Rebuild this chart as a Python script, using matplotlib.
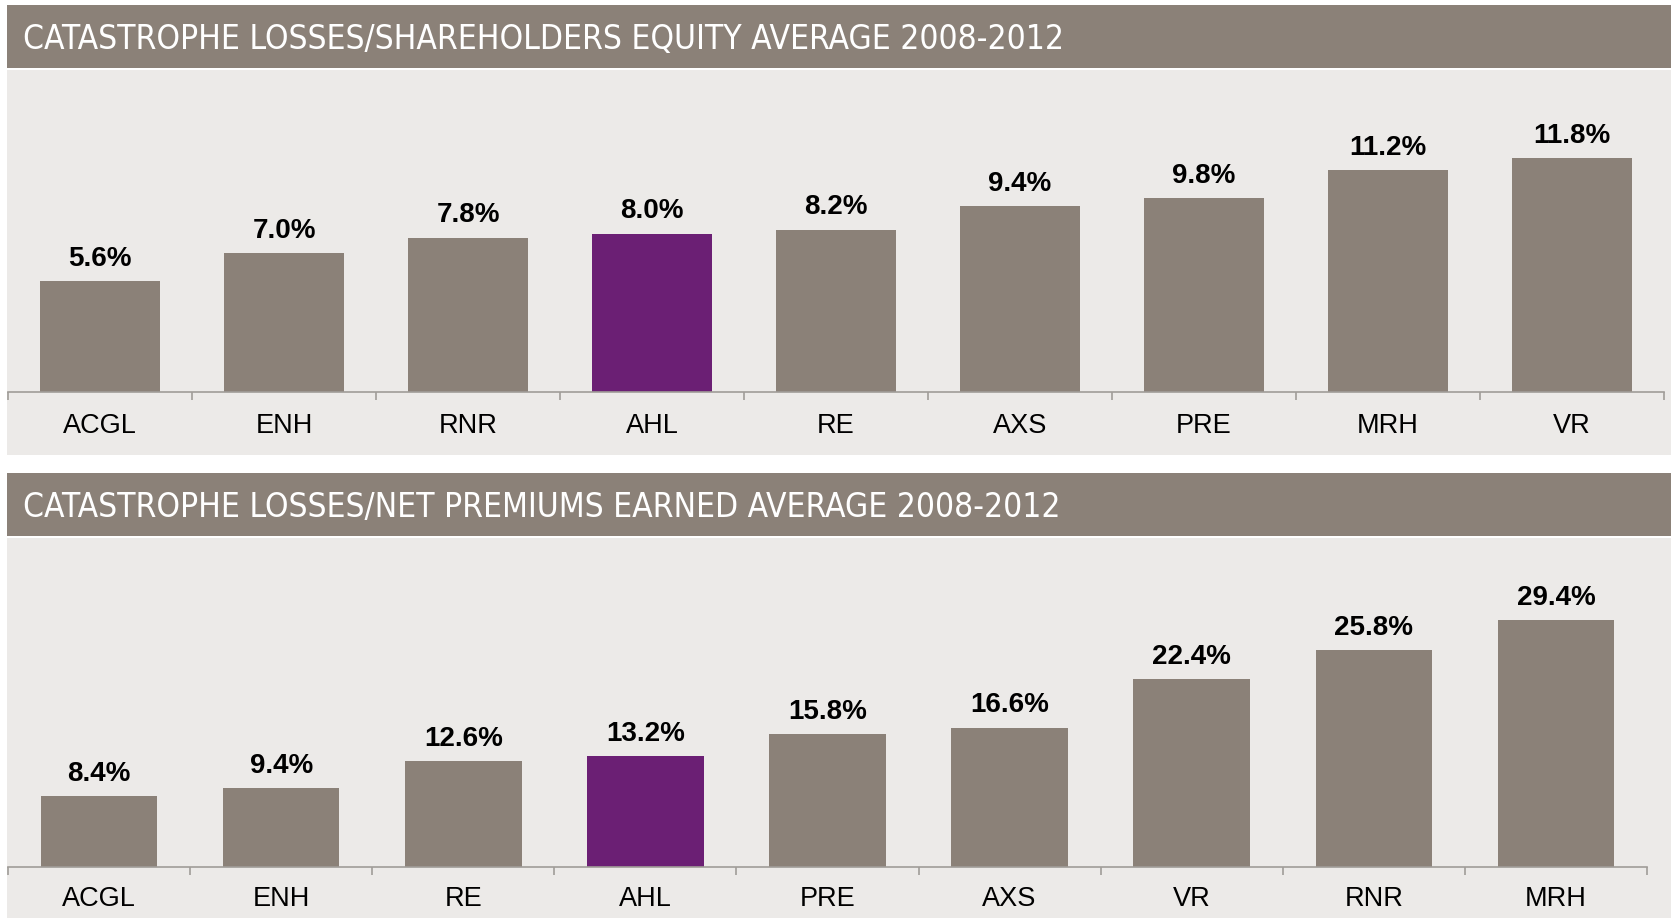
import matplotlib.pyplot as plt
from matplotlib.patches import Rectangle

# data
top_title = "CATASTROPHE LOSSES/SHAREHOLDERS EQUITY AVERAGE 2008-2012"
top_names = ["ACGL", "ENH", "RNR", "AHL", "RE", "AXS", "PRE", "MRH", "VR"]
top_values = [5.6, 7.0, 7.8, 8.0, 8.2, 9.4, 9.8, 11.2, 11.8]

bot_title = "CATASTROPHE LOSSES/NET PREMIUMS EARNED AVERAGE 2008-2012"
bot_names = ["ACGL", "ENH", "RE", "AHL", "PRE", "AXS", "VR", "RNR", "MRH"]
bot_values = [8.4, 9.4, 12.6, 13.2, 15.8, 16.6, 22.4, 25.8, 29.4]

highlight = "AHL"

GREY = "#8b8178"
PURPLE = "#6b1f74"
PANEL = "#eceae8"
AXIS = "#a09c98"

W, H = 1675, 918
fig = plt.figure(figsize=(W / 100, H / 100), dpi=100)
fig.patch.set_facecolor("white")
renderer = fig.canvas.get_renderer()


def px(x0, y0, x1, y1):
    # pixel box (top-left origin) -> figure fraction rect
    return [x0 / W, 1 - y1 / H, (x1 - x0) / W, (y1 - y0) / H]


def add_rect(x0, y0, x1, y1, color):
    fig.patches.append(Rectangle((x0 / W, 1 - y1 / H), (x1 - x0) / W, (y1 - y0) / H,
                                 transform=fig.transFigure, facecolor=color,
                                 edgecolor="none", zorder=-1))


def panel(title, title_w, names, values, bar_y0, bar_y1, panel_y1, ax_box, ymax, width, pad):
    add_rect(7, bar_y0, 1671, bar_y1, GREY)
    add_rect(7, bar_y1 + 2, 1671, panel_y1, PANEL)
    t = fig.text(23 / W, 1 - ((bar_y0 + bar_y1) / 2 + 3) / H, title, color="white",
                 fontsize=25, family="DejaVu Sans", fontstretch="condensed",
                 va="center", ha="left")
    # shrink the title to the width it has in the reference
    w = t.get_window_extent(renderer).width
    t.set_fontsize(25 * title_w / w)

    ax = fig.add_axes(px(*ax_box))
    ax.patch.set_alpha(0)
    x = range(len(names))
    colors = [PURPLE if n == highlight else GREY for n in names]
    bars = ax.bar(x, values, width=width, color=colors)
    for b, v in zip(bars, values):
        ax.annotate("%.1f%%" % v, (b.get_x() + b.get_width() / 2, v),
                    xytext=(0, 11), textcoords="offset points", ha="center",
                    va="baseline", fontsize=20, fontweight="bold",
                    family="Liberation Sans", color="black")
    ax.set_xlim(-0.5, len(names) - 0.5)
    ax.set_ylim(0, ymax)
    ax.set_xticks(list(x))
    ax.set_xticklabels(names, fontsize=19.5, family="Liberation Sans")
    ax.set_xticks([i - 0.5 for i in range(len(names) + 1)], minor=True)
    ax.tick_params(axis="x", which="major", length=0, pad=pad)
    ax.tick_params(axis="x", which="minor", length=6, width=1.2, color=AXIS)
    ax.set_yticks([])
    for s in ["top", "left", "right"]:
        ax.spines[s].set_visible(False)
    ax.spines["bottom"].set_color(AXIS)
    ax.spines["bottom"].set_linewidth(1.2)
    return ax


panel(top_title, 1043, top_names, top_values, 5, 68, 455, (8, 70, 1664, 392), 322 / 19.8, 0.65, 15)
panel(bot_title, 1038, bot_names, bot_values, 473, 536, 918, (8, 540, 1647, 867), 327 / 8.4, 0.64, 13.5)

fig.savefig("out.png", dpi=100)
